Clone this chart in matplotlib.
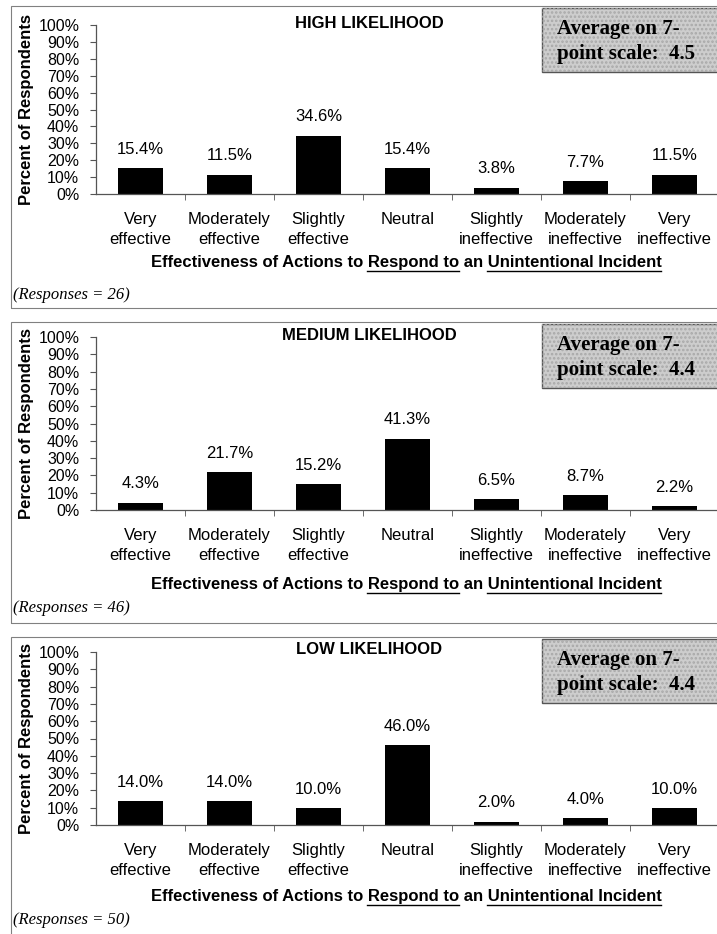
import numpy as np
import matplotlib.pyplot as plt
from matplotlib.patches import Rectangle
from matplotlib.lines import Line2D

plt.rcParams['font.family'] = ['Liberation Sans', 'DejaVu Sans']
plt.rcParams['hatch.linewidth'] = 1.2

categories = ['Very\neffective', 'Moderately\neffective', 'Slightly\neffective',
              'Neutral', 'Slightly\nineffective', 'Moderately\nineffective',
              'Very\nineffective']
titles = ['HIGH LIKELIHOOD', 'MEDIUM LIKELIHOOD', 'LOW LIKELIHOOD']
high_vals = [15.4, 11.5, 34.6, 15.4, 3.8, 7.7, 11.5]
medium_vals = [4.3, 21.7, 15.2, 41.3, 6.5, 8.7, 2.2]
low_vals = [14.0, 14.0, 10.0, 46.0, 2.0, 4.0, 10.0]
averages = [4.5, 4.4, 4.4]
responses = [26, 46, 50]
yticks = np.arange(0, 101, 10)

W, H = 717, 934
fig = plt.figure(figsize=(W / 100, H / 100), dpi=100)
fig.patch.set_facecolor('white')


def fx(px):
    return px / W


def fy(py):
    return 1 - py / H


# pixel layout of each panel: border top, 100% line, 0% line, xlabel, responses
panels = [
    dict(top=6, y100=25, y0=194, xlab=263, resp=295, bottom=308),
    dict(top=322, y100=337, y0=510, xlab=585, resp=608, bottom=623),
    dict(top=637, y100=652, y0=825, xlab=897, resp=920, bottom=990),
]
series = [high_vals, medium_vals, low_vals]

ax_left, ax_right = 96, 719
xlabel = 'Effectiveness of Actions to Respond to an Unintentional Incident'
renderer = fig.canvas.get_renderer()


def text_width(s, **kw):
    t = fig.text(0, 0, s, **kw)
    w = t.get_window_extent(renderer).width
    t.remove()
    return w


for p, vals, title, avg, n in zip(panels, series, titles, averages, responses):
    # panel frame
    fig.add_artist(Rectangle((fx(11), fy(p['bottom'])), fx(730 - 11),
                             (p['bottom'] - p['top']) / H, transform=fig.transFigure,
                             facecolor='none', edgecolor='#808080', lw=0.8))

    ax = fig.add_axes([fx(ax_left), fy(p['y0']), fx(ax_right - ax_left),
                       (p['y0'] - p['y100']) / H])
    x = np.arange(len(vals))
    ax.bar(x, vals, width=0.51, color='black')
    for xi, v in zip(x, vals):
        ax.annotate(f'{v:.1f}%', (xi, v), xytext=(0, 8), textcoords='offset points',
                    ha='center', va='bottom', fontsize=12)
    ax.set_xlim(-0.5, len(vals) - 0.5)
    ax.set_ylim(0, 100)
    ax.set_yticks(yticks)
    ax.set_yticklabels([f'{t}%' for t in yticks], fontsize=11.5)
    ax.set_xticks(x)
    ax.set_xticklabels(categories, fontsize=12, linespacing=1.4)
    ax.set_xticks(np.arange(0.5, len(vals) - 1, 1), minor=True)
    ax.tick_params(axis='x', which='major', length=0, pad=13)
    ax.tick_params(axis='x', which='minor', length=4, direction='out', color='#555555')
    ax.tick_params(axis='y', length=4, direction='out', color='#555555', pad=8)
    for side in ['top', 'right']:
        ax.spines[side].set_visible(False)
    for side in ['left', 'bottom']:
        ax.spines[side].set_color('#555555')
        ax.spines[side].set_linewidth(0.9)
    ax.patch.set_alpha(0)

    fig.text(fx(27), fy((p['y0'] + p['y100']) / 2), 'Percent of Respondents',
             rotation=90, ha='center', va='center', fontsize=12, fontweight='bold')
    fig.text(fx(369), fy(p['y100'] - 2), title, ha='center', va='center',
             fontsize=12, fontweight='bold')

    # average box with stippled fill
    bx0, bx1 = 542, 730
    by0, by1 = p['top'] + 2, p['top'] + 66
    fig.add_artist(Rectangle((fx(bx0), fy(by1)), fx(bx1 - bx0), (by1 - by0) / H,
                             transform=fig.transFigure, facecolor='#cdcdcd',
                             edgecolor='#555555', lw=1.0))
    fig.add_artist(Rectangle((fx(bx0), fy(by1)), fx(bx1 - bx0), (by1 - by0) / H,
                             transform=fig.transFigure, facecolor='none',
                             edgecolor='#a8a8a8', lw=0, hatch='....'))
    fig.text(fx(557), fy(p['top'] + 23), 'Average on 7-', ha='left', va='center',
             fontsize=15, fontweight='bold', family='Liberation Serif')
    fig.text(fx(557), fy(p['top'] + 48), f'point scale:  {avg}', ha='left',
             va='center', fontsize=15, fontweight='bold', family='Liberation Serif')

    # x label with underlined phrases
    kw = dict(fontsize=12, fontweight='bold')
    xc = 406
    lab = fig.text(fx(xc), fy(p['xlab']), xlabel, ha='center', va='center', **kw)
    full_w = lab.get_window_extent(renderer).width
    x_start = xc - full_w / 2
    for word in ['Respond to', 'Unintentional Incident']:
        i = xlabel.index(word)
        end_w = text_width(xlabel[:i + len(word)], **kw)
        w = text_width(word, **kw)
        uy = p['xlab'] + 8
        fig.add_artist(Line2D([fx(x_start + end_w - w), fx(x_start + end_w)],
                              [fy(uy), fy(uy)], transform=fig.transFigure,
                              color='black', lw=1.0))

    fig.text(fx(13), fy(p['resp']), f'(Responses = {n})', ha='left', va='center',
             fontsize=12, fontstyle='italic', family='Liberation Serif')

fig.savefig('out.png', dpi=100, facecolor='white')
